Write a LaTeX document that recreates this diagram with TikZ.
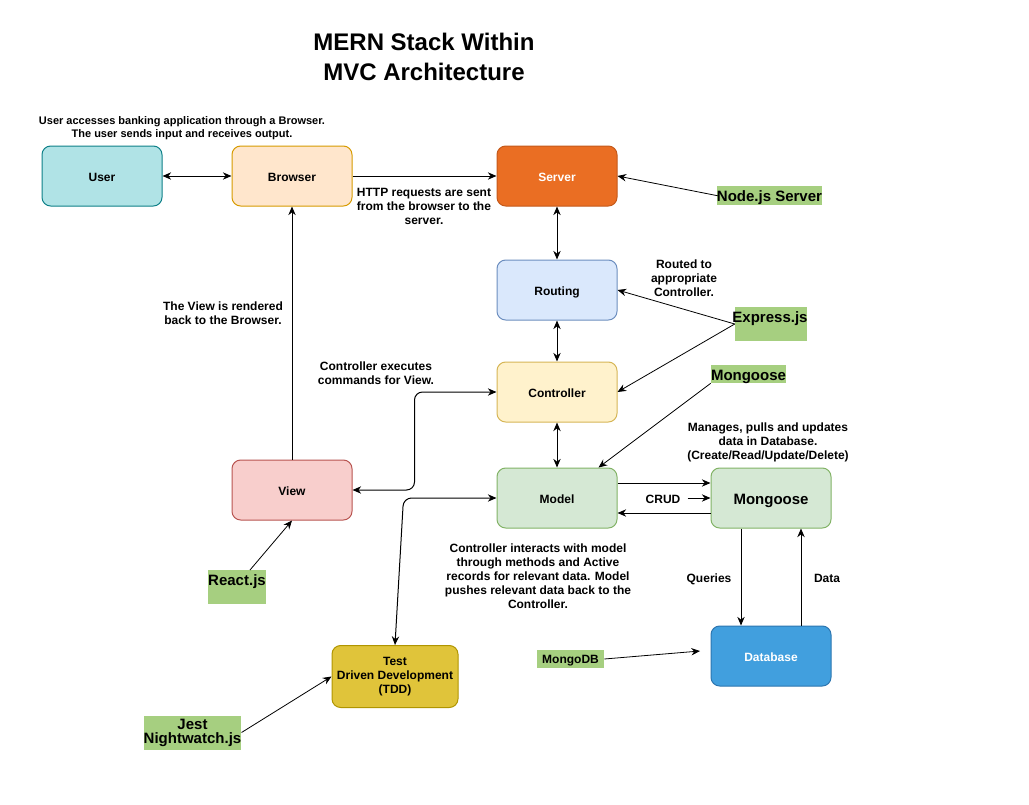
\documentclass[tikz,border=0pt]{standalone}
\usepackage{fontspec}
\setmainfont{Liberation Sans}
\usetikzlibrary{arrows.meta,calc}
\definecolor{userF}{HTML}{B0E3E6}\definecolor{userD}{HTML}{0E8088}
\definecolor{brwF}{HTML}{FFE6CC}\definecolor{brwD}{HTML}{D79B00}
\definecolor{srvF}{HTML}{EA6E23}\definecolor{srvD}{HTML}{C4591A}
\definecolor{rtF}{HTML}{DAE8FC}\definecolor{rtD}{HTML}{6C8EBF}
\definecolor{ctF}{HTML}{FFF2CC}\definecolor{ctD}{HTML}{D6B656}
\definecolor{mdF}{HTML}{D5E8D4}\definecolor{mdD}{HTML}{82B366}
\definecolor{vwF}{HTML}{F8CECC}\definecolor{vwD}{HTML}{B85450}
\definecolor{dbF}{HTML}{419FDE}\definecolor{dbD}{HTML}{2D76B0}
\definecolor{tdF}{HTML}{E0C43A}\definecolor{tdD}{HTML}{B09500}
\definecolor{grn}{HTML}{A6CF80}
\begin{document}
\begin{tikzpicture}[x=0.75pt,y=-0.75pt,
  box/.style={draw, line width=0.75pt, rounded corners=6.5pt, minimum width=90pt, minimum height=45pt, inner sep=0pt, align=center, font=\bfseries\fontsize{9}{10.5}\selectfont},
  oneline/.style={text height=8.5pt, text depth=0.6pt},
  note/.style={align=center, inner sep=0pt, font=\bfseries\fontsize{9}{10.5}\selectfont},
  tag/.style={fill=grn, inner sep=0pt, align=center, font=\bfseries\fontsize{11.25}{10.5}\selectfont},
  tagline/.style={text height=9.6pt, text depth=0.4pt},
  tagbg/.style={fill=grn, inner sep=0pt},
  con/.style={line width=0.75pt, -{Stealth[length=6.5pt,width=5.5pt]}},
  bicon/.style={line width=0.75pt, {Stealth[length=6.5pt,width=5.5pt]}-{Stealth[length=6.5pt,width=5.5pt]}},
  thin/.style={line width=0.6pt, -{Stealth[length=6.5pt,width=5.5pt]}}]
\useasboundingbox (0,0) rectangle (1029,804);
\fill[white] (0,0) rectangle (1029,804);

% title
\node[align=center, font=\bfseries\fontsize{18}{22.5}\selectfont] (title) at (424,57) {MERN Stack Within\\MVC Architecture};

% main boxes
\node[box, oneline, fill=userF, draw=userD] (user) at (102,176) {User};
\node[box, oneline, fill=brwF, draw=brwD] (browser) at (292,176) {Browser};
\node[box, oneline, fill=srvF, draw=srvD, text=white] (server) at (557,176) {Server};
\node[box, oneline, fill=rtF, draw=rtD] (routing) at (557,290) {Routing};
\node[box, oneline, fill=ctF, draw=ctD] (ctrl) at (557,392) {Controller};
\node[box, oneline, fill=mdF, draw=mdD] (model) at (557,498) {Model};
\node[box, fill=mdF, draw=mdD, font=\bfseries\fontsize{11.25}{13}\selectfont, text height=10pt, text depth=0.4pt] (mong) at (771,498) {Mongoose};
\node[box, oneline, fill=dbF, draw=dbD, text=white] (db) at (771,656) {Database};
\node[box, oneline, fill=vwF, draw=vwD] (view) at (292,490) {View};
\node[box, fill=tdF, draw=tdD, minimum width=94.5pt, minimum height=46.5pt] (tdd) at (395,676.5) {Test\\Driven Development\\(TDD)};

% green tags
\node[tag, tagline, minimum width=75.75pt, minimum height=14.25pt] (nodejs) at (769.5,195.5) {Node.js Server};
\node[tagbg, minimum width=54pt, minimum height=25.5pt] (expressbg) at (771,324) {};
\node[font=\bfseries\fontsize{11.25}{13}\selectfont, inner sep=0pt, tagline] (express) at (770,316) {Express.js};
\node[tag, tagline, minimum width=56.25pt, minimum height=13.5pt] (mongtag) at (748.5,374) {Mongoose};
\node[tagbg, minimum width=43.5pt, minimum height=25.5pt] (reactbg) at (237,587) {};
\node[font=\bfseries\fontsize{11.25}{13}\selectfont, inner sep=0pt, tagline] (react) at (237,579) {React.js};
\node[tag, minimum width=72.75pt, minimum height=25.5pt] (jest) at (192.5,732.5) {Jest\\Nightwatch.js};
\node[tagbg, minimum width=50.25pt, minimum height=13.5pt, font=\bfseries\fontsize{9}{10.5}\selectfont, text height=7.6pt, text depth=0.4pt] (mongodb) at (570.5,659) {MongoDB};

% annotations
\node[note, font=\bfseries\fontsize{8.25}{9.75}\selectfont] (n1) at (182,128.5) {User accesses banking application through a Browser.\\The user sends input and receives output.};
\node[note] (n2) at (424,206.5) {HTTP requests are sent\\from the browser to the\\server.};
\node[note] (n3) at (684,278) {Routed to\\appropriate\\Controller.};
\node[note] (n4) at (223,313) {The View is rendered\\back to the Browser.};
\node[note] (n5) at (376,373) {Controller executes\\commands for View.};
\node[note] (n6) at (768,442) {Manages, pulls and updates\\data in Database.\\(Create/Read/Update/Delete)};
\node[note, oneline] (crud) at (663,498) {CRUD};
\node[note] (n7) at (538,576) {Controller interacts with model\\through methods and Active\\records for relevant data. Model\\pushes relevant data back to the\\Controller.};
\node[note, oneline] (queries) at (709,577) {Queries};
\node[note, oneline] (data) at (827,577) {Data};

% connectors
\draw[bicon] (user) -- (browser);
\draw[con] (browser) -- (server);
\draw[bicon] (server) -- (routing);
\draw[bicon] (routing) -- (ctrl);
\draw[bicon] (ctrl) -- (model);
\draw[con] (view) -- (browser);
\draw[bicon, rounded corners=6pt] (view.east) -- ++(62,0) |- (ctrl.west);
\draw[bicon, rounded corners=6pt] (model.west) -- ++(-93,0) -- (tdd.north);
\draw[con] ($(model.east)+(0,-15)$) -- ($(mong.west)+(0,-15)$);
\draw[con] ($(mong.west)+(0,15)$) -- ($(model.east)+(0,15)$);
\draw[con] ($(crud.east)+(7,0)$) -- (mong.west);
\draw[con] ($(mong.south)+(-30,0)$) -- ($(db.north)+(-30,0)$);
\draw[con] ($(db.north)+(30,0)$) -- ($(mong.south)+(30,0)$);

\coordinate (nodejsL) at (719,196);
\draw[thin] (nodejsL) -- (server.east);
\draw[thin] (expressbg.west) -- (routing.east);
\draw[thin] (expressbg.west) -- (ctrl.east);
\draw[thin] (mongtag.south west) -- ($(model.north east)+(-19,0)$);
\coordinate (reactT) at (250,570);
\draw[thin] (reactT) -- (view.south);
\draw[thin] (jest.east) -- (tdd.west);
\coordinate (dbtip) at (700,651);
\draw[thin] (mongodb.east) -- (dbtip);
\end{tikzpicture}
\end{document}
